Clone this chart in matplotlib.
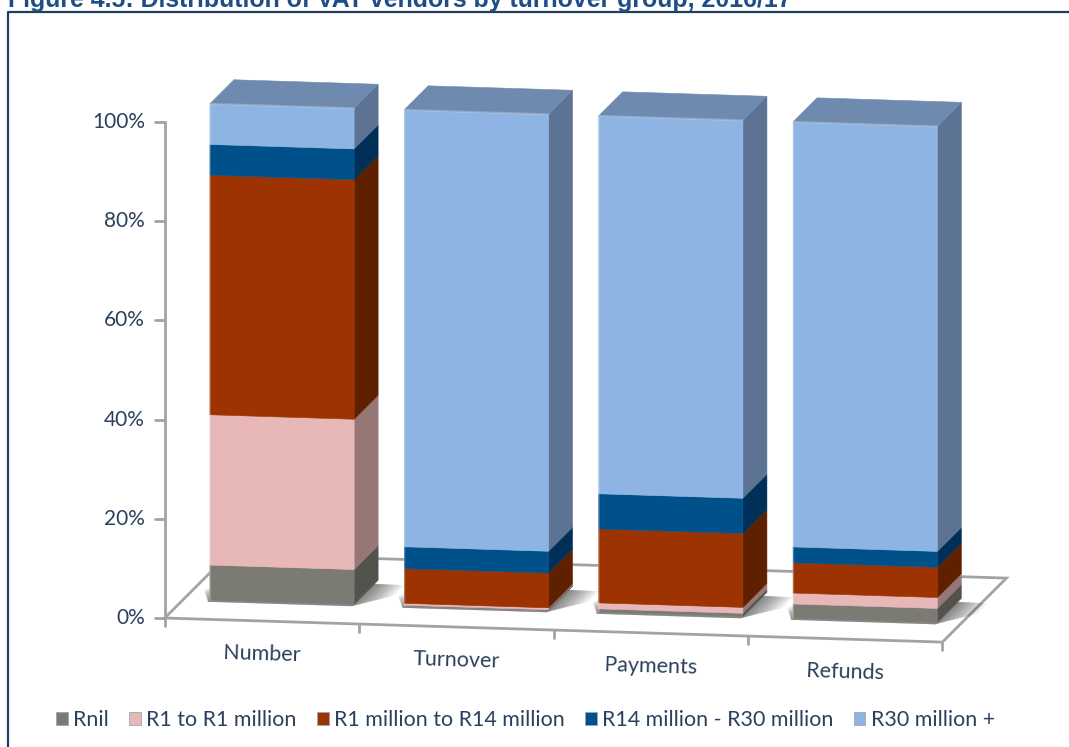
import numpy as np
import matplotlib.pyplot as plt
from matplotlib.patches import Polygon, Patch

categories = ['Number', 'Turnover', 'Payments', 'Refunds']
series_names = ['Rnil', 'R1 to R1 million', 'R1 million to R14 million',
                'R14 million - R30 million', 'R30 million +']
rnil = [7.0, 0.1, 0.6, 2.8]
r1_to_1m = [30.3, 0.4, 1.2, 2.2]
r1m_to_14m = [48.3, 7.0, 14.9, 6.1]
r14m_to_30m = [6.2, 4.4, 7.1, 3.2]
r30m_plus = [8.2, 88.1, 76.2, 85.7]
y_ticks = [0, 20, 40, 60, 80, 100]
title = 'Figure 4.5: Distribution of VAT vendors by turnover group, 2016/17'

front_cols = ['#7b7b73', '#e8b8b8', '#9c3300', '#00508a', '#8db4e3']
side_cols = ['#53534d', '#977676', '#5f2000', '#003058', '#5c7393']
top_col = '#6e8aae'
text_col = '#2b405c'
axis_col = '#a3a3a3'

W, H = 1069, 747
PX_CAT = 194.4   # pixels per category
PX_PCT = 4.96    # pixels per percent
SLOPE = 0.031    # downward tilt of the floor, pixels per pixel
FLOOR_DEPTH = 64
BAR_NEAR, BAR_FAR = 20, 44
BAR_HALF = 0.371
BAR_DROP = 1.0 / PX_PCT

fig = plt.figure(figsize=(W / 100, H / 100), dpi=100)
plt.rcParams['font.family'] = ['Lato', 'DejaVu Sans']
ax = fig.add_axes([0, 0, 1, 1])
ax.set_xlim(-262 / PX_CAT, (W - 262) / PX_CAT)
ax.set_ylim(-(H - 618) / PX_PCT, 618 / PX_PCT)
ax.axis('off')


def proj(cat, pct, depth=0):
    # oblique projection: depth runs up and to the right by equal pixels
    x = cat + depth / PX_CAT
    y = pct + (depth - SLOPE * PX_CAT * (cat + 0.5)) / PX_PCT
    return x, y


def bar_pt(cat, pct, depth):
    x, y = proj(cat, pct, depth)
    return x, y - BAR_DROP


def px(x, y):
    return (x - 262) / PX_CAT, (618 - y) / PX_PCT


def line(points, **kw):
    xs, ys = zip(*points)
    ax.plot(xs, ys, solid_capstyle='round', **kw)


# frame and title (the reference crops the title at its top edge)
line([px(8, H), px(8, 12), px(W, 12)], color='#1f3d63', lw=1.6, zorder=1)
tx, ty = px(8, 7)
ax.text(tx, ty, title, fontsize=17.95, fontweight='bold', color='#1f4e87',
        family='Liberation Sans', va='baseline', ha='left')

# floor
corners = [proj(-0.5, 0), proj(3.5, 0), proj(3.5, 0, FLOOR_DEPTH), proj(-0.5, 0, FLOOR_DEPTH)]
ax.add_patch(Polygon(corners, closed=True, fc='white', ec=axis_col, lw=2, zorder=1.5))

# value axis
line([proj(-0.5, 0), proj(-0.5, 100)], color=axis_col, lw=2, zorder=1.6)
for t in y_ticks:
    x0, y0 = proj(-0.5, t)
    line([(x0 - 10 / PX_CAT, y0), (x0, y0)], color=axis_col, lw=2, zorder=1.6)
    ax.text(x0 - 20 / PX_CAT, y0, f'{t}%', ha='right', va='center',
            fontsize=15, color=text_col)

# category ticks and labels
for k in range(5):
    x0, y0 = proj(k - 0.5, 0)
    line([(x0, y0), (x0, y0 - 8 / PX_PCT)], color=axis_col, lw=2, zorder=1.6)
for k, name in enumerate(categories):
    x0, y0 = proj(k, 0)
    ax.text(x0, y0 - 33 / PX_PCT, name, ha='center', va='center', rotation=-1.7,
            fontsize=15.5, color=text_col)

stack = np.array([rnil, r1_to_1m, r1m_to_14m, r14m_to_30m, r30m_plus])
bottoms = np.vstack([np.zeros(4), np.cumsum(stack, axis=0)])

for k in range(len(categories)):
    xl, xr = k - BAR_HALF, k + BAR_HALF
    z = 3 + k

    # soft shadow on the floor, spreading out from the foot of the bar
    for grow in np.linspace(30, 2, 10):
        g = grow / PX_CAT
        shadow = [bar_pt(xl - g * 0.5, 0, BAR_NEAR + grow * 0.3), bar_pt(xl, 0, BAR_NEAR - 2),
                  bar_pt(xr, 0, BAR_NEAR - 2),
                  bar_pt(xr + g, 0, BAR_NEAR + grow * 0.3),
                  bar_pt(xr + g, 0, BAR_FAR - 4),
                  bar_pt(xl, 0, BAR_FAR)]
        ax.add_patch(Polygon(shadow, closed=True, fc='black', ec='none', alpha=0.06, zorder=z))

    for s in range(stack.shape[0]):
        lo, hi = bottoms[s, k], bottoms[s + 1, k]
        front = [bar_pt(xl, lo, BAR_NEAR), bar_pt(xr, lo, BAR_NEAR),
                 bar_pt(xr, hi, BAR_NEAR), bar_pt(xl, hi, BAR_NEAR)]
        side = [bar_pt(xr, lo, BAR_NEAR), bar_pt(xr, lo, BAR_FAR),
                bar_pt(xr, hi, BAR_FAR), bar_pt(xr, hi, BAR_NEAR)]
        ax.add_patch(Polygon(side, closed=True, fc=side_cols[s], ec=side_cols[s], lw=0.4, zorder=z + 0.1))
        ax.add_patch(Polygon(front, closed=True, fc=front_cols[s], ec=front_cols[s], lw=0.4, zorder=z + 0.2))

    top = bottoms[-1, k]
    cap = [bar_pt(xl, top, BAR_NEAR), bar_pt(xr, top, BAR_NEAR),
           bar_pt(xr, top, BAR_FAR), bar_pt(xl, top, BAR_FAR)]
    ax.add_patch(Polygon(cap, closed=True, fc=top_col, ec=top_col, lw=0.4, zorder=z + 0.3))
    # highlight along the front edges of the top
    line([bar_pt(xl, 0, BAR_NEAR), bar_pt(xl, top, BAR_NEAR), bar_pt(xr, top, BAR_NEAR)],
         color='white', alpha=0.22, lw=1.5, zorder=z + 0.4)

handles = [Patch(fc=c, ec='#9aa7b8', lw=0.6) for c in front_cols]
fig.legend(handles, series_names, ncol=5, frameon=False, loc='center left',
           bbox_to_anchor=(36.5 / W, 1 - 720 / H), fontsize=15.4, labelcolor=text_col,
           handlelength=0.55, handleheight=0.6, handletextpad=0.25, columnspacing=0.95)

fig.savefig('out.png', dpi=100)
plt.close(fig)
